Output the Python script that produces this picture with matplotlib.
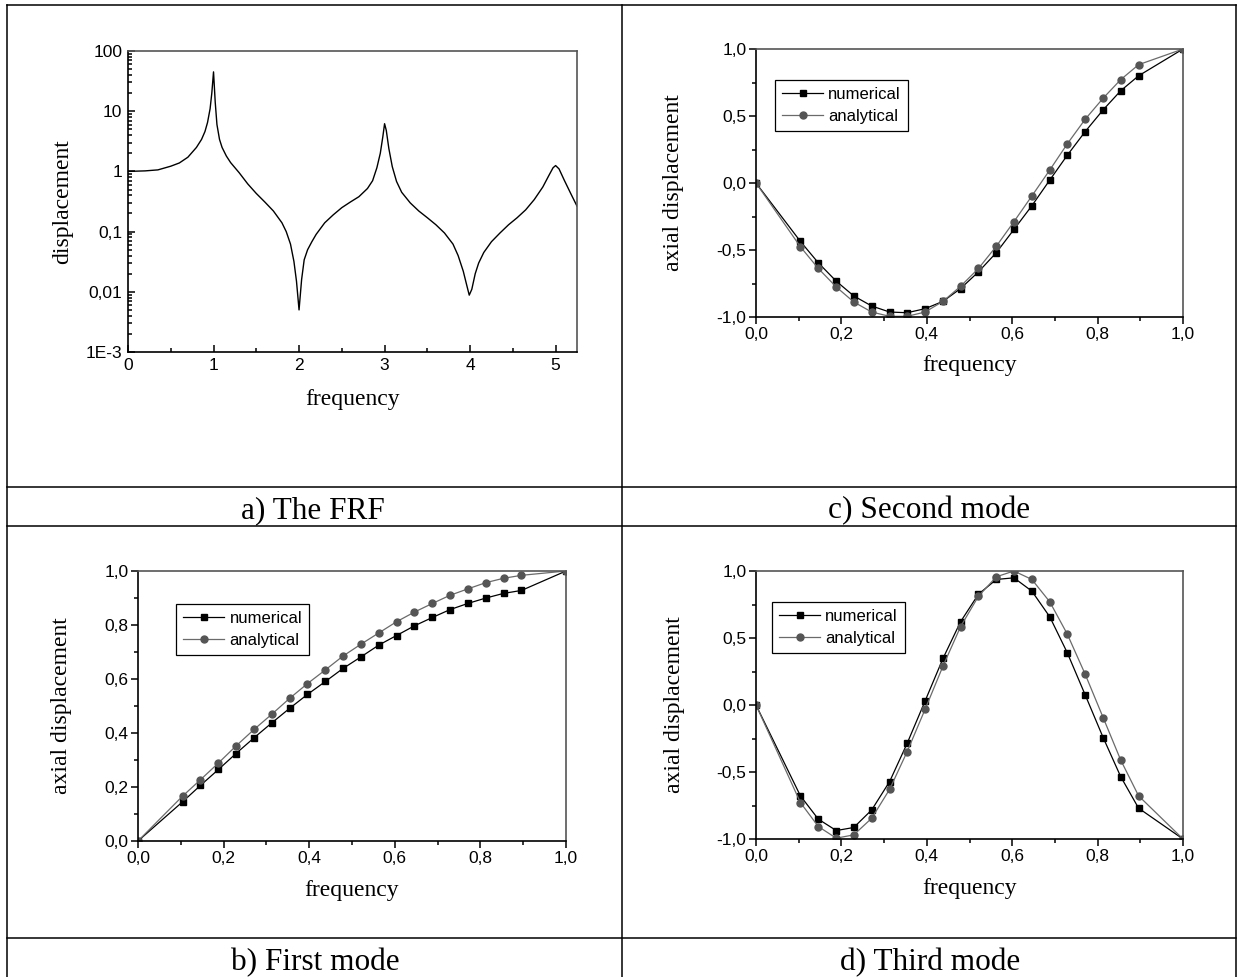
import matplotlib
matplotlib.use('Agg')
from matplotlib import pyplot as plt
from matplotlib.lines import Line2D
from matplotlib.ticker import MultipleLocator, FuncFormatter, LogLocator, NullFormatter

# a) FRF curve
frf_freq = [0, 0.2, 0.35, 0.5, 0.6, 0.7, 0.8, 0.86, 0.9, 0.93, 0.96, 0.98, 1.0, 1.02, 1.04,
            1.07, 1.1, 1.15, 1.2, 1.3, 1.4, 1.5, 1.6, 1.7, 1.8, 1.85, 1.9, 1.94, 1.97, 2.0,
            2.03, 2.06, 2.1, 2.15, 2.2, 2.3, 2.4, 2.5, 2.6, 2.7, 2.8, 2.86, 2.91, 2.95, 2.98,
            3.0, 3.02, 3.05, 3.09, 3.14, 3.2, 3.3, 3.4, 3.5, 3.6, 3.7, 3.8, 3.86, 3.92, 3.96,
            3.99, 4.02, 4.06, 4.1, 4.16, 4.25, 4.35, 4.45, 4.55, 4.65, 4.75, 4.85, 4.92, 4.97,
            5.0, 5.04, 5.1, 5.18, 5.25]
frf_disp = [1.0, 1.02, 1.06, 1.22, 1.38, 1.72, 2.5, 3.4, 4.6, 6.5, 11, 20, 45, 14, 6,
            3.4, 2.5, 1.8, 1.4, 0.95, 0.62, 0.43, 0.31, 0.22, 0.14, 0.1, 0.062, 0.032, 0.015, 0.005,
            0.016, 0.034, 0.05, 0.068, 0.09, 0.14, 0.19, 0.25, 0.31, 0.38, 0.52, 0.7, 1.15, 2.0, 3.8,
            6.2, 4.8, 2.4, 1.2, 0.68, 0.45, 0.3, 0.22, 0.17, 0.13, 0.095, 0.062, 0.04, 0.022, 0.013,
            0.0088, 0.011, 0.02, 0.03, 0.045, 0.068, 0.095, 0.13, 0.17, 0.23, 0.34, 0.55, 0.85, 1.15,
            1.25, 1.1, 0.72, 0.42, 0.265]

# mode shapes: sampling positions
pos = [0.0, 0.104, 0.146, 0.188, 0.229, 0.271, 0.313, 0.354, 0.396, 0.438, 0.479,
       0.521, 0.563, 0.604, 0.646, 0.688, 0.729, 0.771, 0.813, 0.854, 0.896, 1.0]

mode1_num = [0.0, 0.145, 0.206, 0.265, 0.324, 0.382, 0.438, 0.491, 0.543, 0.591, 0.639,
             0.682, 0.726, 0.761, 0.797, 0.828, 0.857, 0.880, 0.900, 0.917, 0.928, 1.0]
mode1_ana = [0.0, 0.166, 0.227, 0.289, 0.352, 0.413, 0.470, 0.528, 0.583, 0.634, 0.685,
             0.729, 0.771, 0.812, 0.848, 0.880, 0.910, 0.934, 0.957, 0.973, 0.984, 1.0]

mode2_num = [0.0, -0.436, -0.596, -0.733, -0.843, -0.918, -0.963, -0.968, -0.938, -0.883, -0.788,
             -0.663, -0.519, -0.347, -0.170, 0.022, 0.207, 0.384, 0.546, 0.688, 0.800, 1.0]
mode2_ana = [0.0, -0.476, -0.638, -0.776, -0.888, -0.963, -0.995, -0.995, -0.963, -0.883, -0.771,
             -0.638, -0.471, -0.289, -0.097, 0.097, 0.292, 0.476, 0.633, 0.771, 0.883, 1.0]

mode3_num = [0.0, -0.678, -0.852, -0.937, -0.914, -0.783, -0.571, -0.286, 0.030, 0.348, 0.621,
             0.827, 0.937, 0.949, 0.850, 0.658, 0.390, 0.075, -0.243, -0.534, -0.770, -1.0]
mode3_ana = [0.0, -0.728, -0.907, -0.994, -0.969, -0.845, -0.629, -0.348, -0.032, 0.291, 0.584,
             0.812, 0.957, 1.0, 0.937, 0.770, 0.529, 0.229, -0.094, -0.410, -0.678, -1.0]

captions = ['a) The FRF', 'b) First mode', 'c) Second mode', 'd) Third mode']

W, H = 1238, 977
SERIF = ['Liberation Serif', 'DejaVu Serif']
SANS = ['Liberation Sans', 'DejaVu Sans']
plt.rcParams['font.family'] = SANS

fig = plt.figure(figsize=(W / 100, H / 100), dpi=100)


def px_axes(l, t, r, b):
    return fig.add_axes([l / W, 1 - b / H, (r - l) / W, (b - t) / H])


def comma(v, _):
    return f'{v:.1f}'.replace('.', ',')


def style_spines(ax):
    for s in ['left', 'bottom']:
        ax.spines[s].set_color('black')
        ax.spines[s].set_linewidth(1.2)
    for s in ['top', 'right']:
        ax.spines[s].set_color('#555555')
        ax.spines[s].set_linewidth(1.2)


def mode_panel(box, num, ana, yticks, yminor, ylab_x, xlab_y, leg_xy):
    ax = px_axes(*box)
    ax.plot(pos, num, '-s', color='black', lw=0.9, ms=5, label='numerical')
    ax.plot(pos, ana, '-o', color='#6a6a6a', mfc='#555555', mec='#555555', lw=0.9, ms=5,
            label='analytical')
    ax.set_xlim(0, 1)
    ax.set_ylim(yticks[0], yticks[-1])
    ax.set_xticks([0, 0.2, 0.4, 0.6, 0.8, 1.0])
    ax.xaxis.set_minor_locator(MultipleLocator(0.1))
    ax.set_yticks(yticks)
    ax.yaxis.set_minor_locator(MultipleLocator(yminor))
    ax.xaxis.set_major_formatter(FuncFormatter(comma))
    ax.yaxis.set_major_formatter(FuncFormatter(comma))
    ax.tick_params(which='both', direction='out', top=False, right=False, labelsize=12.5,
                   width=1.1, pad=2)
    ax.tick_params(which='major', length=5)
    ax.tick_params(which='minor', length=3)
    style_spines(ax)
    ax.set_xlabel('frequency', family=SERIF, fontsize=17)
    ax.set_ylabel('axial displacement', family=SERIF, fontsize=17)
    ax.xaxis.set_label_coords(0.5, xlab_y)
    ax.yaxis.set_label_coords(ylab_x, 0.5)
    leg = ax.legend(loc='upper left', bbox_to_anchor=leg_xy, borderaxespad=0, fontsize=12,
                    numpoints=1, handlelength=2.5, handletextpad=0.3, borderpad=0.4,
                    labelspacing=0.45, fancybox=False, framealpha=1, edgecolor='black')
    leg.get_frame().set_linewidth(0.9)
    return ax


# a) FRF
ax = px_axes(128, 51, 577, 352)
ax.semilogy(frf_freq, frf_disp, color='black', lw=1.0)
ax.set_xlim(0, 5.25)
ax.set_ylim(1e-3, 100)
ax.set_xticks([0, 1, 2, 3, 4, 5])
ax.xaxis.set_minor_locator(MultipleLocator(0.5))
ax.set_yticks([1e-3, 1e-2, 1e-1, 1, 10, 100], ['1E-3', '0,01', '0,1', '1', '10', '100'])
ax.yaxis.set_minor_locator(LogLocator(base=10, subs=range(2, 10)))
ax.yaxis.set_minor_formatter(NullFormatter())
ax.tick_params(which='both', direction='in', top=False, right=False, labelsize=12.5,
               width=1.1, pad=4)
ax.tick_params(which='major', length=5)
ax.tick_params(which='minor', length=3)
style_spines(ax)
ax.set_xlabel('frequency', family=SERIF, fontsize=17)
ax.set_ylabel('displacement', family=SERIF, fontsize=17)
ax.xaxis.set_label_coords(0.5, -0.123)
ax.yaxis.set_label_coords(-0.1225, 0.5)

# b), c), d) mode shapes
mode_panel((138, 571, 566, 841), mode1_num, mode1_ana, [0, 0.2, 0.4, 0.6, 0.8, 1.0], 0.1,
           -0.154, -0.144, (0.089, 0.878))
mode_panel((756, 49, 1183, 317), mode2_num, mode2_ana, [-1, -0.5, 0, 0.5, 1], 0.25,
           -0.169, -0.142, (0.0445, 0.884))
mode_panel((756, 571, 1183, 839), mode3_num, mode3_ana, [-1, -0.5, 0, 0.5, 1], 0.25,
           -0.166, -0.146, (0.0375, 0.884))

# table grid around the panels
grid_lines = [((7, 5), (1236, 5)), ((7, 487), (1236, 487)), ((7, 526), (1236, 526)),
              ((7, 938), (1236, 938)), ((7, 5), (7, 977)), ((622, 5), (622, 977)),
              ((1236, 5), (1236, 977))]
for (x0, y0), (x1, y1) in grid_lines:
    fig.add_artist(Line2D([x0 / W, x1 / W], [1 - y0 / H, 1 - y1 / H], color='black', lw=1.1,
                          transform=fig.transFigure))

cap_pos = [(313, 518), (315, 970), (929, 518), (930, 970)]
for text, (cx, cy) in zip(captions, cap_pos):
    fig.text(cx / W, 1 - cy / H, text, ha='center', va='baseline', family=SERIF, fontsize=22.5)

fig.savefig('out.png', dpi=100)
